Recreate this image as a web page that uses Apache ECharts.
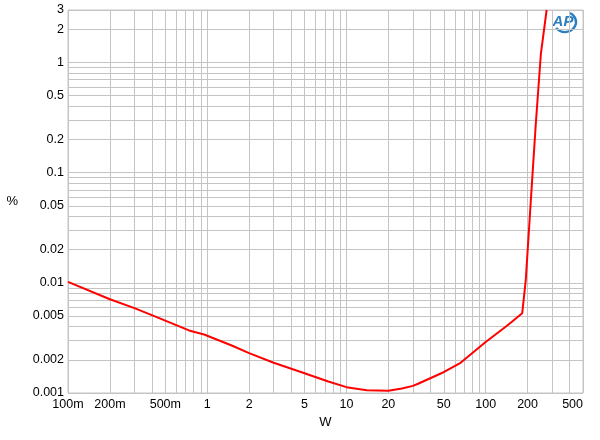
<!DOCTYPE html>
<html lang="en">

<head>
    <meta charset="UTF-8">
    <title>THD+N vs power</title>
    <style>
        * {
            padding: 0;
            margin: 0;
        }
        body {
            background: #fff;
        }
    </style>
</head>

<body>
    <div id="main" style="width: 600px; height: 440px;"></div>
    <script src="https://cdn.jsdelivr.net/npm/echarts@6/dist/echarts.min.js"></script>
    <script>
        // power in W, distortion in %
        const powerW = [0.1, 0.2, 0.3, 0.4, 0.74, 0.95, 1.5, 2, 3, 5, 7.4, 10, 14, 20, 25, 30, 33, 48, 66, 100, 143, 183, 194, 211, 229, 249, 274]
        const thdPct = [0.0102, 0.0071, 0.0059, 0.0051, 0.0037, 0.0034, 0.0027, 0.0023, 0.00188, 0.00151, 0.00127, 0.00113, 0.00106, 0.00105, 0.0011, 0.00116, 0.00122, 0.00151, 0.00188, 0.0029, 0.0041, 0.0053, 0.0106, 0.056, 0.277, 1.19, 3.0]

        const xTickVals = [0.1, 0.2, 0.5, 1, 2, 5, 10, 20, 50, 100, 200, 500]
        const xTickText = ['100m', '200m', '500m', '1', '2', '5', '10', '20', '50', '100', '200', '500']
        const yTickVals = [0.001, 0.002, 0.005, 0.01, 0.02, 0.05, 0.1, 0.2, 0.5, 1, 2, 3]
        const yTickText = ['0.001', '0.002', '0.005', '0.01', '0.02', '0.05', '0.1', '0.2', '0.5', '1', '2', '3']

        const lg = Math.log10
        const xMin = 0.1, xMax = 500
        const yMin = 0.001, yMax = 3

        // grid lines at every 1..9 step of each decade
        function decadeLines(lo, hi) {
            const out = []
            for (let d = Math.floor(lg(lo)); d <= Math.ceil(lg(hi)); d++) {
                for (let m = 1; m <= 9; m++) {
                    const v = m * Math.pow(10, d)
                    if (v >= lo * 0.999 && v <= hi * 1.001) out.push(lg(v))
                }
            }
            return out
        }

        function nearestText(v, vals, texts) {
            let best = 0
            for (let i = 1; i < vals.length; i++) {
                if (Math.abs(lg(vals[i]) - v) < Math.abs(lg(vals[best]) - v)) best = i
            }
            return texts[best]
        }

        const gridColor = '#c4c4c4'
        const font = 'Arial, "Liberation Sans", sans-serif'
        const apBlue = '#2a7fc0'

        let chart = echarts.init(document.getElementById('main'))

        let options = {
            animation: false,
            grid: {
                left: 68,
                right: 17,
                top: 10,
                bottom: 47,
                show: true,
                borderColor: gridColor,
                borderWidth: 1
            },
            xAxis: {
                type: 'value',
                min: lg(xMin),
                max: lg(xMax),
                name: 'W',
                nameLocation: 'middle',
                nameGap: 23,
                nameTextStyle: { fontSize: 13, color: '#000', fontFamily: font },
                axisLine: { show: true, lineStyle: { color: gridColor } },
                axisTick: { show: false, customValues: decadeLines(xMin, xMax) },
                axisLabel: {
                    customValues: xTickVals.map(lg),
                    formatter: v => nearestText(v, xTickVals, xTickText),
                    color: '#000',
                    fontSize: 12.5,
                    fontFamily: font,
                    margin: 5,
                    alignMaxLabel: 'right'
                },
                splitLine: { show: true, lineStyle: { color: gridColor, width: 1 } }
            },
            yAxis: {
                type: 'value',
                min: lg(yMin),
                max: lg(yMax),
                name: '%',
                nameLocation: 'middle',
                nameGap: 50,
                nameRotate: 0,
                nameTextStyle: { fontSize: 13, color: '#000', fontFamily: font },
                axisLine: { show: true, lineStyle: { color: gridColor } },
                axisTick: { show: false, customValues: decadeLines(yMin, yMax) },
                axisLabel: {
                    customValues: yTickVals.map(lg),
                    formatter: v => nearestText(v, yTickVals, yTickText),
                    color: '#000',
                    fontSize: 12.5,
                    fontFamily: font,
                    margin: 4
                },
                splitLine: { show: true, lineStyle: { color: gridColor, width: 1 } }
            },
            graphic: [{
                type: 'arc',
                x: 565,
                y: 22,
                scaleX: 1.1,
                shape: { cx: 0, cy: 0, r: 10, startAngle: -1.1, endAngle: 2.5 },
                style: { stroke: apBlue, lineWidth: 2.2, fill: null }
            }, {
                type: 'text',
                x: 563,
                y: 22,
                style: {
                    text: 'AP',
                    fill: apBlue,
                    align: 'center',
                    verticalAlign: 'middle',
                    font: 'italic bold 15px Arial, "Liberation Sans", sans-serif'
                }
            }],
            series: [{
                type: 'line',
                data: powerW.map((w, i) => [lg(w), lg(thdPct[i])]),
                showSymbol: false,
                symbol: 'none',
                clip: true,
                lineStyle: { color: '#ff0000', width: 2 }
            }]
        }

        chart.setOption(options)
    </script>
</body>

</html>
